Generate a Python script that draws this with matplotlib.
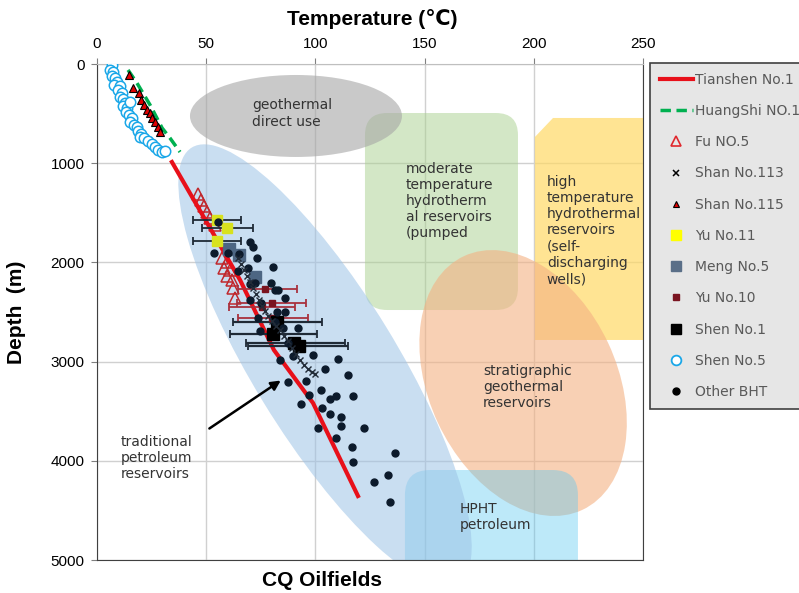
import matplotlib
matplotlib.use("Agg")
from matplotlib import pyplot as plt
from matplotlib.patches import Ellipse, FancyBboxPatch, Polygon
from matplotlib.lines import Line2D
from matplotlib.transforms import ScaledTranslation

# ---- data (temperature in C, depth in m) ----
tianshen_T = [34.3, 65.5, 81.0, 98.9, 119.5]
tianshen_D = [988, 2177, 2883, 3417, 4355]

huangshi_T = [14.2, 18.3, 24.3, 29.8, 33.4, 38.0]
huangshi_D = [60, 192, 413, 645, 746, 887]

fu5_T = [46.2, 47.6, 49.0, 50.4, 51.7, 54.0, 57.2, 59.5, 58.2, 60.9, 59.5, 61.8, 62.3, 63.2]
fu5_D = [1310, 1371, 1431, 1492, 1552, 1623, 1956, 1996, 2056, 2077, 2137, 2177, 2258, 2359]

shan113_T = [64.6, 65.9, 67.3, 68.7, 70.1, 71.4, 72.8, 74.2, 75.5, 76.9, 78.3, 80.1,
             82.0, 83.8, 85.6, 87.5, 89.3, 91.1, 92.9, 94.8, 96.6, 98.4, 99.8]
shan113_D = [1956, 2016, 2077, 2137, 2198, 2258, 2319, 2379, 2440, 2490, 2540, 2591,
             2641, 2681, 2742, 2792, 2863, 2923, 2984, 3034, 3075, 3105, 3125]

shan115_T = [14.7, 16.5, 19.2, 20.1, 21.5, 22.9, 24.3, 25.2, 26.6, 27.9, 28.8]
shan115_D = [111, 242, 292, 363, 413, 464, 494, 544, 585, 635, 685]

yu11_T = [54.9, 59.5, 54.9]
yu11_D = [1573, 1653, 1784]
yu11_err_lo = [11.0, 11.4, 11.0]
yu11_err_hi = [11.0, 11.9, 11.0]

meng5_T = [60.4, 65.0, 72.3]
meng5_D = [1865, 1925, 2147]

yu10_T = [76.9, 80.1, 75.5, 80.1]
yu10_D = [2268, 2409, 2450, 2560]
yu10_err_lo = [12.3, 16.0, 15.1, 15.5]
yu10_err_hi = [14.7, 15.6, 15.2, 16.5]

shen1_T = [82.4, 80.6, 90.2, 92.5]
shen1_D = [2601, 2722, 2812, 2843]
shen1_err_lo = [20.1, 19.7, 22.0, 23.4]
shen1_err_hi = [20.6, 20.1, 23.4, 22.4]

shen5_T = [6.9, 6.0, 7.3, 6.9, 8.2, 9.2, 7.8, 10.5, 9.6, 11.4, 10.5, 11.9, 12.8, 11.9, 13.7, 15.1,
           13.3, 14.7, 16.0, 15.1, 16.9, 18.3, 18.8, 20.1, 19.7, 21.5, 23.4, 25.2, 26.6, 27.9, 29.8, 31.1]
shen5_D = [10, 60, 81, 121, 141, 181, 212, 222, 262, 292, 333, 353, 393, 423, 444, 383,
           484, 514, 544, 585, 615, 635, 675, 706, 736, 746, 776, 806, 837, 867, 887, 877]

bht_T = [55.4, 70.1, 71.4, 53.6, 60.0, 65.0, 73.3, 64.6, 69.1, 80.6, 70.1, 72.3, 79.7, 81.5,
         82.9, 86.1, 70.1, 75.1, 82.4, 86.1, 73.7, 81.5, 85.2, 74.6, 92.0, 87.5, 89.7, 98.9,
         83.8, 110.3, 104.4, 87.5, 95.7, 114.9, 102.6, 97.1, 106.7, 109.4, 117.2, 93.4, 103.0,
         106.7, 111.7, 101.2, 111.7, 122.3, 109.4, 116.8, 117.2, 136.4, 133.2, 126.8, 134.2]
bht_D = [1593, 1794, 1845, 1905, 1905, 1915, 1956, 2087, 2056, 2046, 2218, 2208, 2208, 2278,
         2278, 2359, 2379, 2409, 2500, 2500, 2560, 2601, 2661, 2692, 2661, 2812, 2944, 2933,
         2984, 2974, 3075, 3206, 3196, 3135, 3286, 3337, 3377, 3347, 3347, 3427, 3468,
         3528, 3558, 3669, 3649, 3669, 3770, 3861, 4012, 3921, 4143, 4214, 4415]

RED = '#e8101a'
GREEN = '#00b050'
FU = '#c0282d'
Y11_PLOT = '#d8e21e'
MENG = '#4d6683'
YU10 = '#7a1420'
DOT = '#0c1a2b'
CYAN = '#1aa7e8'

fig = plt.figure(figsize=(7.99, 5.93), dpi=100)
ax = fig.add_axes([97/799, 33/593, 546/799, 496/593])
ax.set_xlim(0, 250)
ax.set_ylim(5000, 0)

def at(x, y):
    # inches-space transform anchored at a data point
    return fig.dpi_scale_trans + ScaledTranslation(x, y, ax.transData)

# ---- background zones ----
ax.add_patch(FancyBboxPatch((0, -1.97), 1.53, 1.97, boxstyle='round,pad=0,rounding_size=0.22',
                            transform=at(122.7, 494), fc='#a9d18e', ec='none', alpha=0.5, zorder=1))
ax.add_patch(Polygon([(200.5, 736), (208.8, 544), (255, 544), (255, 2782), (200.5, 2782)],
                     closed=True, fc='#ffd966', ec='none', alpha=0.7, zorder=1))
ax.add_patch(Ellipse((0, 0), 2.12, 0.82, angle=0, transform=at(91.1, 524),
                     fc='#a6a6a6', ec='none', alpha=0.6, zorder=1))
ax.add_patch(Ellipse((0, 0), 2.8, 1.88, angle=-65, transform=at(195.1, 3216),
                     fc='#f4b183', ec='none', alpha=0.6, zorder=1))
ax.add_patch(FancyBboxPatch((0, -1.3), 1.73, 1.3, boxstyle='round,pad=0,rounding_size=0.25',
                            transform=at(141.0, 4093), fc='#5bc8f2', ec='none', alpha=0.4, zorder=1))
ax.add_patch(Ellipse((0, 0), 5.1, 1.44, angle=-58.5, transform=at(104.4, 3034),
                     fc='#9dc3e6', ec='none', alpha=0.55, zorder=1))

ax.grid(True, color='#d0d0d0', lw=1)
ax.set_axisbelow(True)

# ---- series ----
ax.plot(fu5_T, fu5_D, ls='none', marker='^', ms=8, mfc='none', mec=FU, mew=1.1, zorder=3)
ax.plot(tianshen_T, tianshen_D, color=RED, lw=3, zorder=4)
ax.plot(huangshi_T, huangshi_D, color=GREEN, lw=2.5, ls=(0, (3, 1.6)), zorder=4)
ax.errorbar(yu11_T, yu11_D, xerr=[yu11_err_lo, yu11_err_hi], fmt='s', ms=7, color=Y11_PLOT,
            ecolor='#1f2a36', elinewidth=1.3, capsize=3, capthick=1.3, zorder=5)
ax.plot(meng5_T, meng5_D, ls='none', marker='s', ms=8, color=MENG, zorder=5)
ax.errorbar(yu10_T, yu10_D, xerr=[yu10_err_lo, yu10_err_hi], fmt='s', ms=5, color=YU10,
            ecolor='#a8323e', elinewidth=1.3, capsize=3, capthick=1.3, zorder=5)
ax.errorbar(shen1_T, shen1_D, xerr=[shen1_err_lo, shen1_err_hi], fmt='s', ms=8, color='black',
            ecolor='#1f2a36', elinewidth=1.6, capsize=3, capthick=1.3, zorder=5)
ax.plot(bht_T, bht_D, ls='none', marker='o', ms=5, color=DOT, zorder=6)
ax.plot(shan113_T, shan113_D, ls='none', marker='x', ms=4, mew=1, color='#222c38', zorder=6)
ax.plot(shen5_T, shen5_D, ls='none', marker='o', ms=7.5, mfc='white', mec=CYAN, mew=1.1, zorder=5)
ax.plot(shan115_T, shan115_D, ls='none', marker='^', ms=5.5, mfc='#e00000', mec='black', mew=0.8, zorder=6)

# ---- zone labels ----
zt = dict(fontsize=10, color='#333333', family='DejaVu Sans', ha='left', va='center', zorder=7)
ax.text(71.0, 499, 'geothermal\ndirect use', **zt)
ax.text(141.5, 1381, 'moderate\ntemperature\nhydrotherm\nal reservoirs\n(pumped', **zt)
ax.text(206.0, 1678, 'high\ntemperature\nhydrothermal\nreservoirs\n(self-\ndischarging\nwells)', **zt)
ax.text(176.7, 3256, 'stratigraphic\ngeothermal\nreservoirs', **zt)
ax.text(166.2, 4567, 'HPHT\npetroleum', **zt)
ax.text(11.0, 3972, 'traditional\npetroleum\nreservoirs', **zt)
ax.annotate('', xy=(85.2, 3175), xytext=(50.4, 3690),
            arrowprops=dict(arrowstyle='-|>', color='black', lw=1.8, mutation_scale=14), zorder=7)

# ---- axes styling ----
narrow = ['Liberation Sans Narrow', 'Liberation Sans', 'DejaVu Sans']
ax.xaxis.tick_top()
ax.set_xticks([0, 50, 100, 150, 200, 250])
ax.set_yticks([0, 1000, 2000, 3000, 4000, 5000])
ax.tick_params(length=4, color='#808080', labelsize=11, pad=5)
for lab in ax.get_xticklabels() + ax.get_yticklabels():
    lab.set_family(narrow)
for s in ['left', 'bottom', 'right']:
    ax.spines[s].set_color('#404040')
ax.spines['top'].set_color('#bfbfbf')

fig.text(372/799, 1 - 19/593, 'Temperature (\u2103)', ha='center', va='center',
         fontsize=15, fontweight='bold', family=narrow)
fig.text(17/799, 1 - 312/593, 'Depth  (m)', ha='center', va='center', rotation=90,
         fontsize=15, fontweight='bold', family=narrow)
fig.text(322/799, 1 - 580/593, 'CQ Oilfields', ha='center', va='center',
         fontsize=15, fontweight='bold', family=narrow)

# ---- legend (runs past the right edge, as in the original) ----
handles = [
    Line2D([], [], color=RED, lw=3),
    Line2D([], [], color=GREEN, lw=2.5, ls=(0, (3, 1.6))),
    Line2D([], [], ls='none', marker='^', ms=7, mfc='none', mec='#e0282d', mew=1.2),
    Line2D([], [], ls='none', marker='x', ms=4, mew=1.1, color='black'),
    Line2D([], [], ls='none', marker='^', ms=5, mfc='#e00000', mec='black', mew=0.8),
    Line2D([], [], ls='none', marker='s', ms=7, color='#ffff00'),
    Line2D([], [], ls='none', marker='s', ms=7, color='#5a6f88'),
    Line2D([], [], ls='none', marker='s', ms=5, color=YU10),
    Line2D([], [], ls='none', marker='s', ms=7, color='black'),
    Line2D([], [], ls='none', marker='o', ms=7, mfc='white', mec=CYAN, mew=1.3),
    Line2D([], [], ls='none', marker='o', ms=5, color='black'),
]
labels = ['Tianshen No.1', 'HuangShi NO.1', 'Fu NO.5', 'Shan No.113', 'Shan No.115', 'Yu No.11',
          'Meng No.5', 'Yu No.10', 'Shen No.1', 'Shen No.5', 'Other BHT']
leg = fig.legend(handles, labels, loc='upper left', bbox_to_anchor=(650/799, 1 - 63/593),
                 bbox_transform=fig.transFigure, borderaxespad=0, frameon=True, fancybox=False,
                 handlelength=2.4, handletextpad=0.15, labelspacing=1.24, borderpad=0.7,
                 prop={'family': 'DejaVu Sans', 'size': 10}, labelcolor='#595959')
leg.get_frame().set_facecolor('#e6e6e6')
leg.get_frame().set_edgecolor('#404040')
leg.get_frame().set_linewidth(1.2)
leg.get_frame().set_alpha(1)

fig.savefig('out.png', dpi=100)
